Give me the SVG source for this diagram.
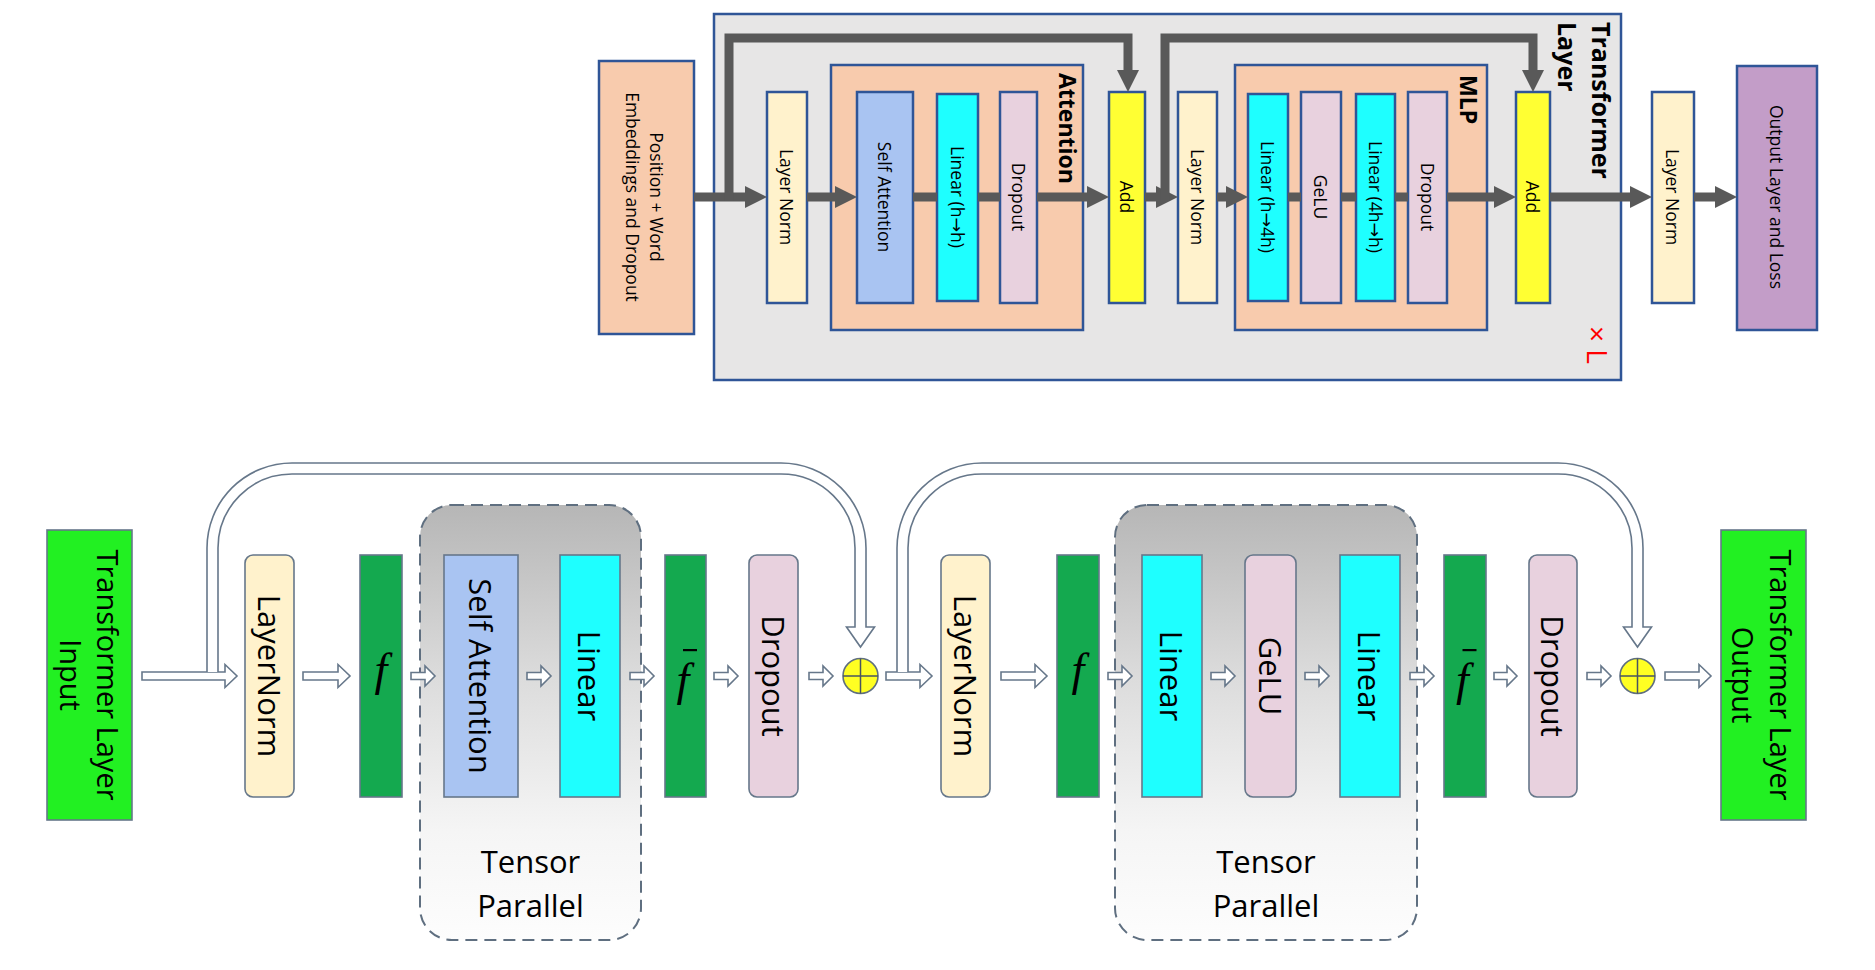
<svg xmlns="http://www.w3.org/2000/svg" width="1875" height="970" viewBox="0 0 1875 970">
<style>
.t{font-family:"Open Sans","Noto Sans","DejaVu Sans",sans-serif;fill:#000}
.ts{font-size:17.5px}
.tb{font-size:31px}
.bold{font-weight:bold}
.bx{stroke:#2F5597;stroke-width:2.5}
.gx{stroke:#66778a;stroke-width:1.6}
.peach{fill:#F8CBAD}
.ln{fill:#FFF2CC}
.sa{fill:#A9C4F2}
.lin{fill:#1EFFFF}
.drop{fill:#E8D1DE}
.add{fill:#FFFF33}
.fg{fill:#14A94F}
.bg{fill:#22F022}
.mline{fill:none;stroke:#595959;stroke-width:9}
.hol{fill:#fff;stroke:#66778a;stroke-width:1.6;stroke-linejoin:miter}
.fi{font-family:"Liberation Serif","Times New Roman",serif;font-style:italic;font-size:46px;fill:#000}
.bar{fill:#000}
</style>
<defs>
<marker id="ah" markerUnits="userSpaceOnUse" markerWidth="22" markerHeight="22" refX="1" refY="11" orient="auto">
<path d="M0,0 L22,11 L0,22 z" fill="#595959"/>
</marker>
<linearGradient id="tpg" x1="0" y1="0" x2="0" y2="1">
<stop offset="0" stop-color="#b6b6b6"/>
<stop offset="0.4" stop-color="#dcdcdc"/>
<stop offset="0.75" stop-color="#f5f5f5"/>
<stop offset="1" stop-color="#fdfdfd"/>
</linearGradient>
</defs>

<!-- ========== TOP DIAGRAM ========== -->
<g id="transformer-layer">
<rect x="714" y="14" width="907" height="366" fill="#E7E6E6" class="bx"/>
<text class="t bold" font-size="25" transform="translate(1592,22) rotate(90)">Transformer</text>
<text class="t bold" font-size="25" transform="translate(1558,22) rotate(90)">Layer</text>
<text font-family="Open Sans, sans-serif" font-size="28" fill="#FF0000" transform="translate(1587,326) rotate(90)">× L</text>
</g>

<g id="pos-embed">
<rect x="599" y="61" width="95" height="273" class="peach bx"/>
<text class="t ts" transform="translate(657,197) rotate(90)" text-anchor="middle" dominant-baseline="central">Position + Word</text>
<text class="t ts" transform="translate(633,197) rotate(90)" text-anchor="middle" dominant-baseline="central">Embeddings and Dropout</text>
</g>

<g id="top-ln1">
<rect x="767" y="92" width="40" height="211" class="ln bx"/>
<text class="t ts" transform="translate(787,197) rotate(90)" text-anchor="middle" dominant-baseline="central">Layer Norm</text>
</g>

<g id="attention">
<rect x="831" y="65" width="252" height="265" class="peach bx"/>
<text class="t bold" font-size="23" transform="translate(1059,73) rotate(90)">Attention</text>
</g>
<g id="top-self-attn">
<rect x="857" y="92" width="56" height="211" class="sa bx"/>
<text class="t ts" transform="translate(885,197) rotate(90)" text-anchor="middle" dominant-baseline="central">Self Attention</text>
</g>
<g id="top-linear1">
<rect x="937" y="94" width="41" height="207" class="lin bx"/>
<text class="t ts" transform="translate(957.5,197) rotate(90)" text-anchor="middle" dominant-baseline="central">Linear (h→h)</text>
</g>
<g id="top-dropout1">
<rect x="1000" y="92" width="37" height="211" class="drop bx"/>
<text class="t ts" transform="translate(1018.5,197) rotate(90)" text-anchor="middle" dominant-baseline="central">Dropout</text>
</g>
<g id="top-add1">
<rect x="1109" y="92" width="36" height="211" class="add bx"/>
<text class="t ts" transform="translate(1127,197) rotate(90)" text-anchor="middle" dominant-baseline="central">Add</text>
</g>
<g id="top-ln2">
<rect x="1178" y="92" width="39" height="211" class="ln bx"/>
<text class="t ts" transform="translate(1197.5,197) rotate(90)" text-anchor="middle" dominant-baseline="central">Layer Norm</text>
</g>

<g id="mlp">
<rect x="1235" y="65" width="252" height="265" class="peach bx"/>
<text class="t bold" font-size="23" transform="translate(1460,75) rotate(90)">MLP</text>
</g>
<g id="top-linear2">
<rect x="1248" y="94" width="40" height="207" class="lin bx"/>
<text class="t ts" transform="translate(1268,197) rotate(90)" text-anchor="middle" dominant-baseline="central">Linear (h→4h)</text>
</g>
<g id="top-gelu">
<rect x="1301" y="92" width="40" height="211" class="drop bx"/>
<text class="t ts" transform="translate(1321,197) rotate(90)" text-anchor="middle" dominant-baseline="central">GeLU</text>
</g>
<g id="top-linear3">
<rect x="1356" y="94" width="39" height="207" class="lin bx"/>
<text class="t ts" transform="translate(1375.5,197) rotate(90)" text-anchor="middle" dominant-baseline="central">Linear (4h→h)</text>
</g>
<g id="top-dropout2">
<rect x="1408" y="92" width="39" height="211" class="drop bx"/>
<text class="t ts" transform="translate(1427.5,197) rotate(90)" text-anchor="middle" dominant-baseline="central">Dropout</text>
</g>
<g id="top-add2">
<rect x="1516" y="92" width="34" height="211" class="add bx"/>
<text class="t ts" transform="translate(1533,197) rotate(90)" text-anchor="middle" dominant-baseline="central">Add</text>
</g>
<g id="top-ln3">
<rect x="1652" y="92" width="42" height="211" class="ln bx"/>
<text class="t ts" transform="translate(1673,197) rotate(90)" text-anchor="middle" dominant-baseline="central">Layer Norm</text>
</g>
<g id="output-loss">
<rect x="1737" y="66" width="80" height="264" fill="#C39DC8" class="bx"/>
<text class="t ts" transform="translate(1777,197) rotate(90)" text-anchor="middle" dominant-baseline="central">Output Layer and Loss</text>
</g>

<!-- ========== BOTTOM DIAGRAM ========== -->
<g id="tp1">
<rect x="420" y="505" width="221" height="435" rx="32" fill="url(#tpg)" stroke="#5f6f80" stroke-width="2" stroke-dasharray="12 7"/>
<text class="t" font-size="31" x="530.5" y="873" text-anchor="middle">Tensor</text>
<text class="t" font-size="31" x="530.5" y="917" text-anchor="middle">Parallel</text>
</g>
<g id="tp2">
<rect x="1115" y="505" width="302" height="435" rx="32" fill="url(#tpg)" stroke="#5f6f80" stroke-width="2" stroke-dasharray="12 7"/>
<text class="t" font-size="31" x="1266" y="873" text-anchor="middle">Tensor</text>
<text class="t" font-size="31" x="1266" y="917" text-anchor="middle">Parallel</text>
</g>

<g id="tl-input">
<rect x="47" y="530" width="85" height="290" class="bg gx"/>
<text class="t" font-size="29" transform="translate(108,675) rotate(90)" text-anchor="middle" dominant-baseline="central">Transformer Layer</text>
<text class="t" font-size="29" transform="translate(71,675) rotate(90)" text-anchor="middle" dominant-baseline="central">Input</text>
</g>
<g id="b-ln1">
<rect x="245" y="555" width="49" height="242" rx="8" class="ln gx"/>
<text class="t tb" transform="translate(269.5,676) rotate(90)" text-anchor="middle" dominant-baseline="central">LayerNorm</text>
</g>
<g id="b-f1">
<rect x="360" y="555" width="42" height="242" class="fg gx"/>
<text class="fi" x="381" y="685" text-anchor="middle">f</text>
</g>
<g id="b-self-attn">
<rect x="444" y="555" width="74" height="242" class="sa gx"/>
<text class="t tb" transform="translate(481,676) rotate(90)" text-anchor="middle" dominant-baseline="central">Self Attention</text>
</g>
<g id="b-linear1">
<rect x="560" y="555" width="60" height="242" class="lin gx"/>
<text class="t tb" transform="translate(590,676) rotate(90)" text-anchor="middle" dominant-baseline="central">Linear</text>
</g>
<g id="b-fbar1">
<rect x="665" y="555" width="41" height="242" class="fg gx"/>
<text class="fi" x="683" y="695" text-anchor="middle">f</text>
<rect class="bar" x="683" y="649" width="14" height="2.2"/>
</g>
<g id="b-dropout1">
<rect x="749" y="555" width="49" height="242" rx="8" class="drop gx"/>
<text class="t tb" transform="translate(773.5,676) rotate(90)" text-anchor="middle" dominant-baseline="central">Dropout</text>
</g>
<g id="b-add1">
<circle cx="860.5" cy="676" r="17.5" fill="#FFFF22" stroke="#5f6f80" stroke-width="1.6"/>
<path d="M843,676 H878 M860.5,658.5 V693.5" stroke="#4a5560" stroke-width="1.5"/>
</g>
<g id="b-ln2">
<rect x="941" y="555" width="49" height="242" rx="8" class="ln gx"/>
<text class="t tb" transform="translate(965.5,676) rotate(90)" text-anchor="middle" dominant-baseline="central">LayerNorm</text>
</g>
<g id="b-f2">
<rect x="1057" y="555" width="42" height="242" class="fg gx"/>
<text class="fi" x="1078" y="685" text-anchor="middle">f</text>
</g>
<g id="b-linear2">
<rect x="1142" y="555" width="60" height="242" class="lin gx"/>
<text class="t tb" transform="translate(1172,676) rotate(90)" text-anchor="middle" dominant-baseline="central">Linear</text>
</g>
<g id="b-gelu">
<rect x="1245" y="555" width="51" height="242" rx="8" class="drop gx"/>
<text class="t tb" transform="translate(1270.5,676) rotate(90)" text-anchor="middle" dominant-baseline="central">GeLU</text>
</g>
<g id="b-linear3">
<rect x="1340" y="555" width="60" height="242" class="lin gx"/>
<text class="t tb" transform="translate(1370,676) rotate(90)" text-anchor="middle" dominant-baseline="central">Linear</text>
</g>
<g id="b-fbar2">
<rect x="1444" y="555" width="42" height="242" class="fg gx"/>
<text class="fi" x="1462.5" y="695" text-anchor="middle">f</text>
<rect class="bar" x="1462.5" y="649" width="14" height="2.2"/>
</g>
<g id="b-dropout2">
<rect x="1529" y="555" width="48" height="242" rx="8" class="drop gx"/>
<text class="t tb" transform="translate(1553,676) rotate(90)" text-anchor="middle" dominant-baseline="central">Dropout</text>
</g>
<g id="b-add2">
<circle cx="1637.5" cy="676" r="17.5" fill="#FFFF22" stroke="#5f6f80" stroke-width="1.6"/>
<path d="M1620,676 H1655 M1637.5,658.5 V693.5" stroke="#4a5560" stroke-width="1.5"/>
</g>
<g id="tl-output">
<rect x="1721" y="530" width="85" height="290" class="bg gx"/>
<text class="t" font-size="29" transform="translate(1781,675) rotate(90)" text-anchor="middle" dominant-baseline="central">Transformer Layer</text>
<text class="t" font-size="29" transform="translate(1743,675) rotate(90)" text-anchor="middle" dominant-baseline="central">Output</text>
</g>

<!-- ========== CONNECTORS ========== -->
<g id="connectors">
<!-- top -->
<path class="mline" d="M694,197 H746" marker-end="url(#ah)"/>
<path class="mline" d="M729,201 V38 H1128 V71" marker-end="url(#ah)"/>
<path class="mline" d="M807,197 H836" marker-end="url(#ah)"/>
<path class="mline" d="M913,197 H937"/>
<path class="mline" d="M978,197 H1000"/>
<path class="mline" d="M1037,197 H1088" marker-end="url(#ah)"/>
<path class="mline" d="M1145,197 H1157" marker-end="url(#ah)"/>
<path class="mline" d="M1165,201 V38 H1533 V71" marker-end="url(#ah)"/>
<path class="mline" d="M1217,197 H1227" marker-end="url(#ah)"/>
<path class="mline" d="M1288,197 H1301"/>
<path class="mline" d="M1341,197 H1356"/>
<path class="mline" d="M1395,197 H1408"/>
<path class="mline" d="M1447,197 H1495" marker-end="url(#ah)"/>
<path class="mline" d="M1550,197 H1631" marker-end="url(#ah)"/>
<path class="mline" d="M1694,197 H1716" marker-end="url(#ah)"/>

<!-- bottom: big hollow arrows -->
<path class="hol" d="M142,672 H225 V664.5 L237,676 L225,687.5 V680 H142 Z"/>
<path class="hol" d="M303,672 H338 V664.5 L350,676 L338,687.5 V680 H303 Z"/>
<path class="hol" d="M886,672 H920 V664.5 L932,676 L920,687.5 V680 H886 Z"/>
<path class="hol" d="M1001,672 H1035 V664.5 L1047,676 L1035,687.5 V680 H1001 Z"/>
<path class="hol" d="M1665,672 H1699 V664.5 L1711,676 L1699,687.5 V680 H1665 Z"/>
<!-- bottom: small hollow arrows -->
<path class="hol" d="M411,672.5 H425 V666 L435,676 L425,686 V679.5 H411 Z"/>
<path class="hol" d="M527,672.5 H541 V666 L551,676 L541,686 V679.5 H527 Z"/>
<path class="hol" d="M630,672.5 H644 V666 L654,676 L644,686 V679.5 H630 Z"/>
<path class="hol" d="M714,672.5 H728 V666 L738,676 L728,686 V679.5 H714 Z"/>
<path class="hol" d="M809,672.5 H823 V666 L833,676 L823,686 V679.5 H809 Z"/>
<path class="hol" d="M1108,672.5 H1122 V666 L1132,676 L1122,686 V679.5 H1108 Z"/>
<path class="hol" d="M1211,672.5 H1225 V666 L1235,676 L1225,686 V679.5 H1211 Z"/>
<path class="hol" d="M1305,672.5 H1319 V666 L1329,676 L1319,686 V679.5 H1305 Z"/>
<path class="hol" d="M1410,672.5 H1424 V666 L1434,676 L1424,686 V679.5 H1410 Z"/>
<path class="hol" d="M1494,672.5 H1507 V666 L1517,676 L1507,686 V679.5 H1494 Z"/>
<path class="hol" d="M1587,672.5 H1601 V666 L1611,676 L1601,686 V679.5 H1587 Z"/>
<!-- bottom: residual skip arrows -->
<path class="hol" d="M207,672 V548 A85,85 0 0 1 292,463 H781 A85,85 0 0 1 866,548 V627 H874.5 L860.5,647 L846.5,627 H855 V548 A74,74 0 0 0 781,474 H292 A74,74 0 0 0 218,548 V672"/>
<path class="hol" d="M897,672 V548 A85,85 0 0 1 982,463 H1558 A85,85 0 0 1 1643,548 V627 H1651.5 L1637.5,647 L1623.5,627 H1632 V548 A74,74 0 0 0 1558,474 H982 A74,74 0 0 0 908,548 V672"/>
</g>
</svg>
